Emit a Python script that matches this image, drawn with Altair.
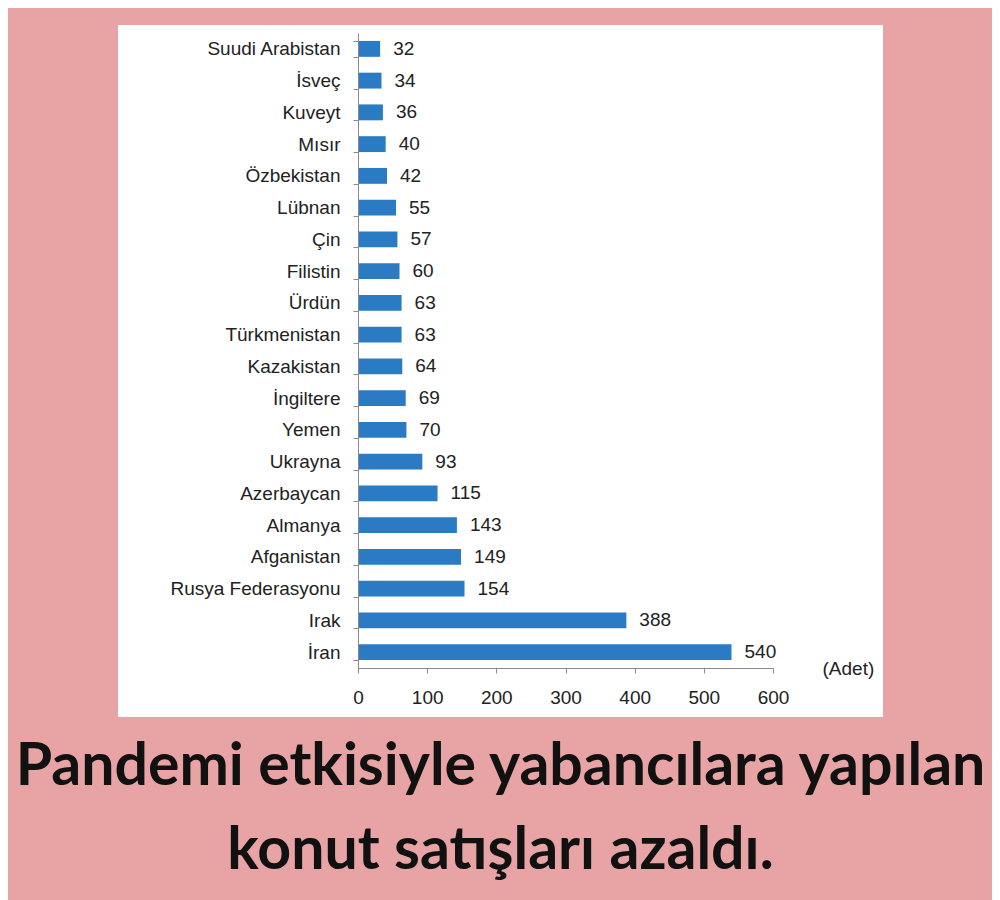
import altair as alt
import pandas as pd

countries = ["Suudi Arabistan", "İsveç", "Kuveyt", "Mısır", "Özbekistan", "Lübnan", "Çin",
             "Filistin", "Ürdün", "Türkmenistan", "Kazakistan", "İngiltere", "Yemen", "Ukrayna",
             "Azerbaycan", "Almanya", "Afganistan", "Rusya Federasyonu", "Irak", "İran"]
values = [32, 34, 36, 40, 42, 55, 57, 60, 63, 63, 64, 69, 70, 93, 115, 143, 149, 154, 388, 540]
x_ticks = [0, 100, 200, 300, 400, 500, 600]
title_lines = ["Pandemi etkisiyle yabancılara yapılan", "konut satışları azaldı."]
unit_label = "(Adet)"

df = pd.DataFrame({"country": countries, "value": values})

PINK = "#E8A4A4"
BLUE = "#2A7BC4"
FONT = "Liberation Sans"

panel = alt.Chart(df).mark_rect(color="white").encode(
    x=alt.value(-240), x2=alt.value(525), y=alt.value(-8), y2=alt.value(684)
)

y_enc = alt.Y(
    "country:N", sort=countries, title=None,
    scale=alt.Scale(paddingInner=0.5, paddingOuter=0.25),
    axis=alt.Axis(domainColor="#8a8a8a", tickColor="#8a8a8a", tickBand="extent", tickSize=5,
                  labelFont=FONT, labelFontSize=19, labelColor="#222222", labelPadding=13,
                  zindex=1),
)
x_enc = alt.X(
    "value:Q", scale=alt.Scale(domain=[0, 600]),
    axis=alt.Axis(values=x_ticks, grid=False, title=unit_label, titleX=464, titleY=0,
                  titleAlign="left", titleBaseline="middle", titleFontWeight="normal",
                  titleFont=FONT, titleFontSize=19, titleColor="#222222",
                  domainColor="#8a8a8a", tickColor="#8a8a8a", tickSize=5,
                  labelFont=FONT, labelFontSize=19, labelColor="#222222", labelPadding=15,
                  labelFlush=False, zindex=1),
)

bars = alt.Chart(df).mark_bar(color=BLUE).encode(y=y_enc, x=x_enc)
labels = alt.Chart(df).mark_text(align="left", baseline="middle", dx=13, font=FONT,
                                 fontSize=19, color="#222222").encode(
    y=alt.Y("country:N", sort=countries), x="value:Q", text="value:Q"
)

chart = alt.layer(panel, bars, labels).properties(
    width=415, height=635,
    autosize=alt.AutoSizeParams(type="none"),
    padding={"left": 350, "top": 25, "right": 219, "bottom": 232},
    title=alt.TitleParams(title_lines, orient="bottom", anchor="middle", frame="group", dx=-65,
                          font="Lato", fontSize=59, fontWeight="bold", color="#111111",
                          lineHeight=84, offset=21),
).configure(background=PINK).configure_view(stroke=None)

chart.save("out.html", embed_options={"renderer": "svg", "actions": False})
